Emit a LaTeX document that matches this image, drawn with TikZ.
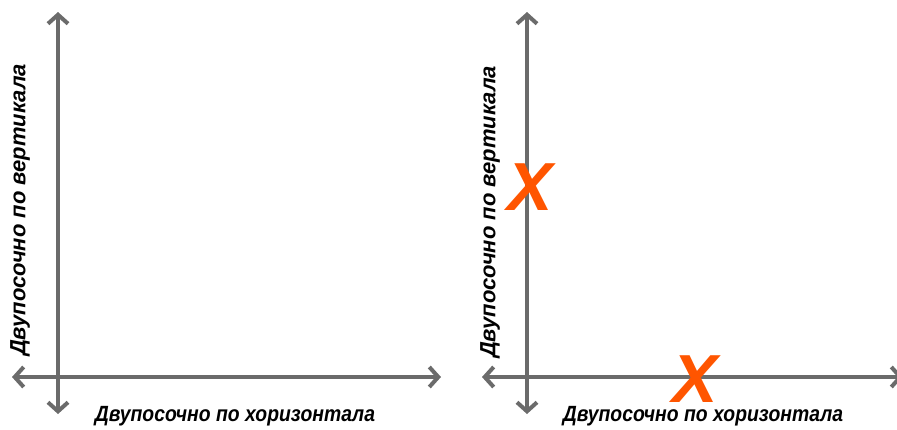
\documentclass[tikz,border=0pt]{standalone}
\usepackage{fontspec}
\setmainfont{Liberation Sans}
\usetikzlibrary{arrows.meta}
\definecolor{axisgray}{HTML}{6B6B6B}
\definecolor{markorange}{HTML}{FF5500}
\tikzset{
  axis/.style={draw=axisgray, line width=4pt, {Straight Barb[length=9pt,width=20pt,line width=4pt]}-{Straight Barb[length=9pt,width=20pt,line width=4pt]}},
  lbl/.style={inner sep=0pt, font=\fontsize{22}{24}\selectfont\bfseries\itshape, text=black},
  hlbl/.style={lbl, xscale=0.88},
  vlbl/.style={lbl, rotate=90},
  xmark/.style={inner sep=0pt, font=\fontsize{68}{70}\selectfont\bfseries\itshape, text=markorange}
}
\begin{document}
\begin{tikzpicture}[x=1pt,y=-1pt]
\useasboundingbox (0,0) rectangle (897,429);
% left panel
\coordinate (lvt) at (58,12);
\coordinate (lvb) at (58,414);
\coordinate (lhl) at (12,377);
\coordinate (lhr) at (441,377);
\draw[axis] (lhl) -- (lhr);
\draw[axis] (lvb) -- (lvt);
\node[hlbl] (lh) at (235,416) {Двупосочно по хоризонтала};
\node[vlbl] (lv) at (20,210) {Двупосочно по вертикала};
% right panel
\coordinate (rvt) at (527,12);
\coordinate (rvb) at (527,414);
\coordinate (rhl) at (482,377);
\coordinate (rhr) at (903,377);
\draw[axis] (rhl) -- (rhr);
\draw[axis] (rvb) -- (rvt);
\node[hlbl] (rh) at (703,416) {Двупосочно по хоризонтала};
\node[vlbl] (rv) at (490,212) {Двупосочно по вертикала};
\node[xmark] (x1) at (530,187) {X};
\node[xmark] (x2) at (695,379) {X};
\end{tikzpicture}
\end{document}
